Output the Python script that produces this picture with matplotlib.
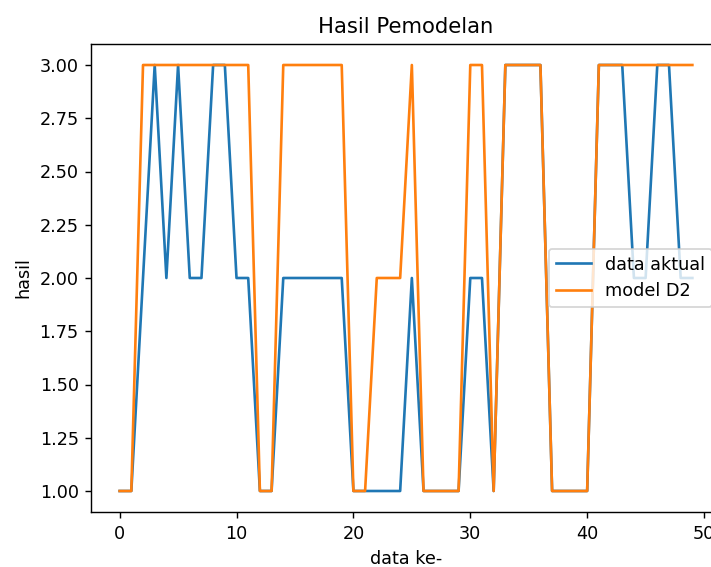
import matplotlib
matplotlib.use("Agg")
import matplotlib.pyplot as plt

x = list(range(50))
data_aktual = [1, 1, 2, 3, 2, 3, 2, 2, 3, 3,
               2, 2, 1, 1, 2, 2, 2, 2, 2, 2,
               1, 1, 1, 1, 1, 2, 1, 1, 1, 1,
               2, 2, 1, 3, 3, 3, 3, 1, 1, 1,
               1, 3, 3, 3, 2, 2, 3, 3, 2, 2]
model_d2 = [1, 1, 3, 3, 3, 3, 3, 3, 3, 3,
            3, 3, 1, 1, 3, 3, 3, 3, 3, 3,
            1, 1, 2, 2, 2, 3, 1, 1, 1, 1,
            3, 3, 1, 3, 3, 3, 3, 1, 1, 1,
            1, 3, 3, 3, 3, 3, 3, 3, 3, 3]

dpi = 127
fig = plt.figure(figsize=(711 / dpi, 567 / dpi), dpi=dpi)
ax = fig.add_axes([91 / 711, 1 - 512.3 / 567, 630 / 711, 468.6 / 567])
ax.plot(x, data_aktual, label="data aktual")
ax.plot(x, model_d2, label="model D2")
ax.set_title("Hasil Pemodelan")
ax.set_xlabel("data ke-")
ax.set_ylabel("hasil")
ax.legend(loc="center right")
fig.savefig("out.png", dpi=dpi)
